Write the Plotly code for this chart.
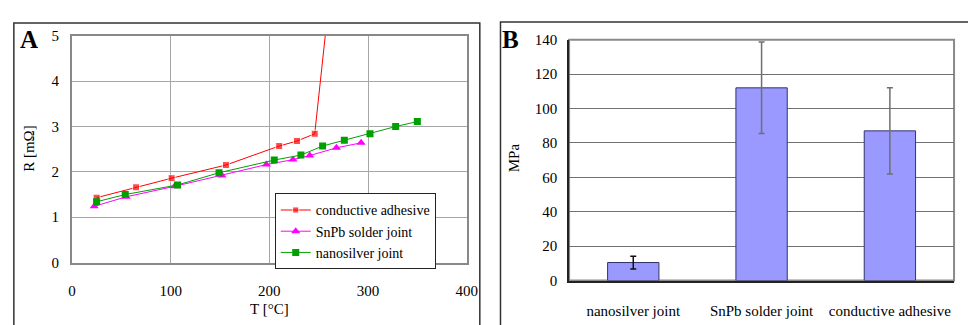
import plotly.graph_objects as go

# ---- Panel A data: resistance vs temperature ----
ca_T = [25, 65, 101, 156, 210, 228, 246, 257]
ca_R = [1.43, 1.66, 1.86, 2.15, 2.57, 2.68, 2.84, 5.07]
snpb_T = [22.6, 55, 104, 152, 197, 224, 241, 268, 293]
snpb_R = [1.24, 1.45, 1.68, 1.92, 2.16, 2.27, 2.36, 2.53, 2.64]
ns_T = [25, 54, 107, 149, 205, 232, 254, 276, 302, 328, 350]
ns_R = [1.34, 1.50, 1.71, 1.98, 2.26, 2.37, 2.57, 2.70, 2.84, 3.00, 3.11]

# ---- Panel B data: shear strength ----
joint_types = ["nanosilver joint", "SnPb solder joint", "conductive adhesive"]
strength = [10.5, 112, 87]
strength_err = [3.7, 26.6, 25]
err_colors = ["#111111", "#6f6f6f", "#6f6f6f"]

W, H = 968, 325
def px(x):
    return x / W
def py(y):
    return 1 - y / H

FONT = "Liberation Serif"

fig = go.Figure()

ca_sizes = [7] * (len(ca_T) - 1) + [0]
fig.add_trace(go.Scatter(x=ca_T, y=ca_R, mode="lines+markers", name="conductive adhesive",
                         line=dict(color="#ff0000", width=1),
                         marker=dict(symbol="square", size=ca_sizes, color="#ff0000"),
                         xaxis="x", yaxis="y"))
fig.add_trace(go.Scatter(x=snpb_T, y=snpb_R, mode="lines+markers", name="SnPb solder joint",
                         line=dict(color="#ff00ff", width=1),
                         marker=dict(symbol="triangle-up", size=8, color="#ff00ff"),
                         xaxis="x", yaxis="y"))
fig.add_trace(go.Scatter(x=ns_T, y=ns_R, mode="lines+markers", name="nanosilver joint",
                         line=dict(color="#00a000", width=1),
                         marker=dict(symbol="square", size=7, color="#00a000"),
                         xaxis="x", yaxis="y"))

for i, cat in enumerate(joint_types):
    fig.add_trace(go.Bar(x=[cat], y=[strength[i]], showlegend=False,
                         marker=dict(color="#9999ff", line=dict(color="#333366", width=1)),
                         error_y=dict(type="data", array=[strength_err[i]], color=err_colors[i],
                                      thickness=1.5, width=3),
                         width=0.4, xaxis="x2", yaxis="y2"))

axfont = dict(family=FONT, size=15, color="#000000")

fig.update_layout(
    width=W, height=H, margin=dict(l=0, r=0, t=0, b=0),
    paper_bgcolor="white", plot_bgcolor="white",
    font=dict(family=FONT, size=15, color="#000000"),
    barmode="overlay",
    xaxis=dict(domain=[px(69), px(470)], range=[0, 400], dtick=100, tick0=0,
               showgrid=True, gridcolor="#a6a6a6", gridwidth=1, zeroline=False,
               showline=True, linecolor="#888888", linewidth=2, mirror=True,
               ticks="", tickfont=axfont, ticklabelstandoff=13, anchor="y"),
    yaxis=dict(domain=[py(267.7), py(29.3)], range=[0, 5], dtick=1, tick0=0,
               showgrid=True, gridcolor="#a6a6a6", gridwidth=1, zeroline=False,
               showline=True, linecolor="#888888", linewidth=2, mirror=True,
               ticks="", tickfont=axfont, ticklabelstandoff=8, anchor="x"),
    xaxis2=dict(domain=[px(574), px(965)], range=[-0.5, 2.5], showgrid=False, zeroline=False,
                showline=True, linecolor="#222222", linewidth=1.5,
                ticks="", tickfont=axfont, ticklabelstandoff=16, anchor="y2"),
    yaxis2=dict(domain=[py(286.7), py(33.3)], range=[0, 140], dtick=20, tick0=0,
                showgrid=True, gridcolor="#707070", gridwidth=1.2, zeroline=False,
                showline=True, linecolor="#222222", linewidth=1.5,
                ticks="", tickfont=axfont, ticklabelstandoff=7, anchor="x2"),
    legend=dict(x=px(275), y=py(195), xanchor="left", yanchor="top",
                bgcolor="white", bordercolor="#222222", borderwidth=1,
                font=dict(family=FONT, size=14, color="#000000"),
                tracegroupgap=0, itemwidth=30),
)

# panel B plot frame (top/right) in gray
fig.add_shape(type="rect", xref="x2 domain", yref="y2 domain", x0=0, x1=1, y0=0, y1=1,
              line=dict(color="#8a8a8a", width=2), layer="below")

# outer panel boxes
fig.add_shape(type="rect", xref="paper", yref="paper", x0=px(10), x1=px(483.3),
              y0=-0.2, y1=py(15.7), line=dict(color="#333333", width=1.5))
fig.add_shape(type="rect", xref="paper", yref="paper", x0=px(504.3), x1=1.2,
              y0=-0.2, y1=py(14.7), line=dict(color="#333333", width=1.5))

ann = [
    dict(text="<b>A</b>", x=px(25), y=py(33), font=dict(family=FONT, size=25)),
    dict(text="<b>B</b>", x=px(514.5), y=py(33), font=dict(family=FONT, size=25)),
    dict(text="R [mΩ]", x=px(25.5), y=py(148), textangle=-90, font=axfont),
    dict(text="T [°C]", x=px(269.5), y=py(316.5), font=axfont),
    dict(text="MPa", x=px(518), y=py(157), textangle=-90, font=axfont),
]
for a in ann:
    fig.add_annotation(xref="paper", yref="paper", showarrow=False,
                       xanchor="center", yanchor="middle", **a)

fig.write_html("out.html")
